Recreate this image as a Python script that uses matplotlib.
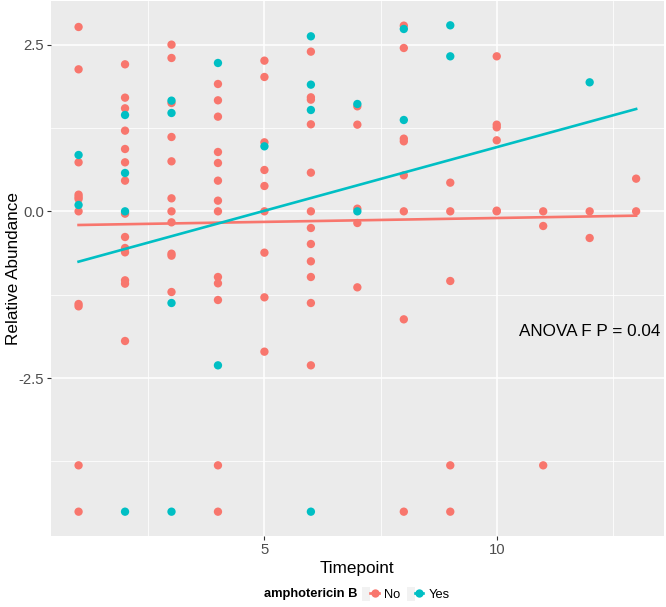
import numpy as np
import matplotlib
matplotlib.use("Agg")
import matplotlib.pyplot as plt
from matplotlib.lines import Line2D
from matplotlib.patches import Patch
from matplotlib.legend_handler import HandlerTuple

plt.rcParams['font.family'] = ['Liberation Sans', 'DejaVu Sans']

#===== data =====#
no_x = [1]*11 + [2]*14 + [3]*11 + [4]*13 + [5]*9 + [6]*12 + [7]*5 + [8]*8 + [9]*5 + [10]*6 + [11]*3 + [12]*2 + [13]*2
no_y = [2.765, 2.13, 0.735, 0.25, 0.215, 0.185, 0.0, -1.39, -1.425, -3.81, -4.505,
        2.205, 1.705, 1.545, 1.21, 0.935, 0.735, 0.46, -0.035, -0.385, -0.55, -0.615, -1.035, -1.085, -1.945,
        2.5, 2.3, 1.625, 1.115, 0.75, 0.195, 0.0, -0.165, -0.635, -0.665, -1.21,
        1.91, 1.665, 1.42, 0.89, 0.725, 0.46, 0.16, 0.0, -0.985, -1.08, -1.33, -3.81, -4.505,
        2.26, 2.015, 1.035, 0.62, 0.38, 0.0, -0.62, -1.29, -2.105,
        2.395, 1.71, 1.675, 1.305, 0.58, 0.0, -0.25, -0.49, -0.75, -0.985, -1.375, -2.31,
        1.575, 1.30, 0.04, -0.175, -1.14,
        2.785, 2.45, 1.09, 1.05, 0.54, 0.0, -1.62, -4.505,
        0.43, 0.0, -1.045, -3.81, -4.505,
        2.325, 1.30, 1.26, 1.065, 0.01, 0.0,
        0.0, -0.22, -3.81,
        0.0, -0.4,
        0.49, 0.0]

yes_x = [1, 1, 2, 2, 2, 2, 3, 3, 3, 3, 4, 4, 5, 6, 6, 6, 6, 7, 7, 8, 8, 9, 9, 12]
yes_y = [0.845, 0.095, 1.445, 0.575, 0.0, -4.505, 1.66, 1.475, -1.375, -4.505,
         2.225, -2.31, 0.975, 2.625, 1.9, 1.52, -4.505, 1.61, 0.0, 2.735, 1.37,
         2.79, 2.325, 1.935]

# fitted trend lines as drawn in the picture (value at x=1 and x=13)
fit_x = [1, 13]
fit_no = [-0.205, -0.065]
fit_yes = [-0.755, 1.535]

groups = ["No", "Yes"]
colors = ["#F8766D", "#00BFC4"]
anova_label = "ANOVA F P = 0.04"

#===== plot =====#
fig = plt.figure(figsize=(6.66, 6.07), dpi=100)
ax = fig.add_axes([50.7/666, 71/607, (664-50.7)/666, (606-71)/607])
ax.set_facecolor("#EBEBEB")

allx = np.array(no_x + yes_x, dtype=float)
ally = np.array(no_y + yes_y, dtype=float)
xr = allx.max() - allx.min()
yr = ally.max() - ally.min()
ax.set_xlim(allx.min() - 0.05*xr, allx.max() + 0.05*xr)
ax.set_ylim(ally.min() - 0.05*yr, ally.max() + 0.05*yr)

ax.set_xticks([5, 10])
ax.set_xticks([2.5, 7.5, 12.5], minor=True)
ax.set_yticks([-2.5, 0, 2.5])
ax.set_yticklabels(["-2.5", "0.0", "2.5"])
ax.set_yticks([-3.75, -1.25, 1.25], minor=True)
ax.grid(which="major", color="white", lw=1.1)
ax.grid(which="minor", color="white", lw=0.55)
ax.set_axisbelow(True)
for s in ax.spines.values():
    s.set_visible(False)
ax.tick_params(which="major", length=3, width=0.8, color="#333333",
               labelsize=10.7, labelcolor="#4D4D4D", pad=2)
ax.tick_params(which="minor", length=0)

for gx, gy, fy, c in zip([no_x, yes_x], [no_y, yes_y], [fit_no, fit_yes], colors):
    ax.scatter(gx, gy, s=36, color=c, edgecolors="none", zorder=3)
    ax.plot(fit_x, fy, color=c, lw=1.9, zorder=4)

ax.text(12, -1.8, anova_label, ha="center", va="center", fontsize=12.3, color="black")

ax.set_xlabel("Timepoint", fontsize=12.3, labelpad=3)
ax.set_ylabel("Relative Abundance", fontsize=12.3)
ax.yaxis.set_label_coords(-0.048, 0.5)

handles = [(Patch(facecolor="#F2F2F2", edgecolor="none"),
            Line2D([], [], color=c, lw=1.9, marker="o", markersize=6, markeredgewidth=0))
           for c in colors]
fig.text(357/666, 13/607, "amphotericin B", fontsize=9.3, fontweight="bold",
         ha="right", va="center")
fig.legend(handles, groups, loc="center left", bbox_to_anchor=(362/666, 13/607),
           ncol=2, frameon=False, fontsize=9.3, handlelength=1.3, handleheight=1.3,
           handletextpad=0.4, columnspacing=0.5, borderpad=0, borderaxespad=0,
           handler_map={tuple: HandlerTuple(ndivide=None)})

plt.savefig("out.png", dpi=100)
